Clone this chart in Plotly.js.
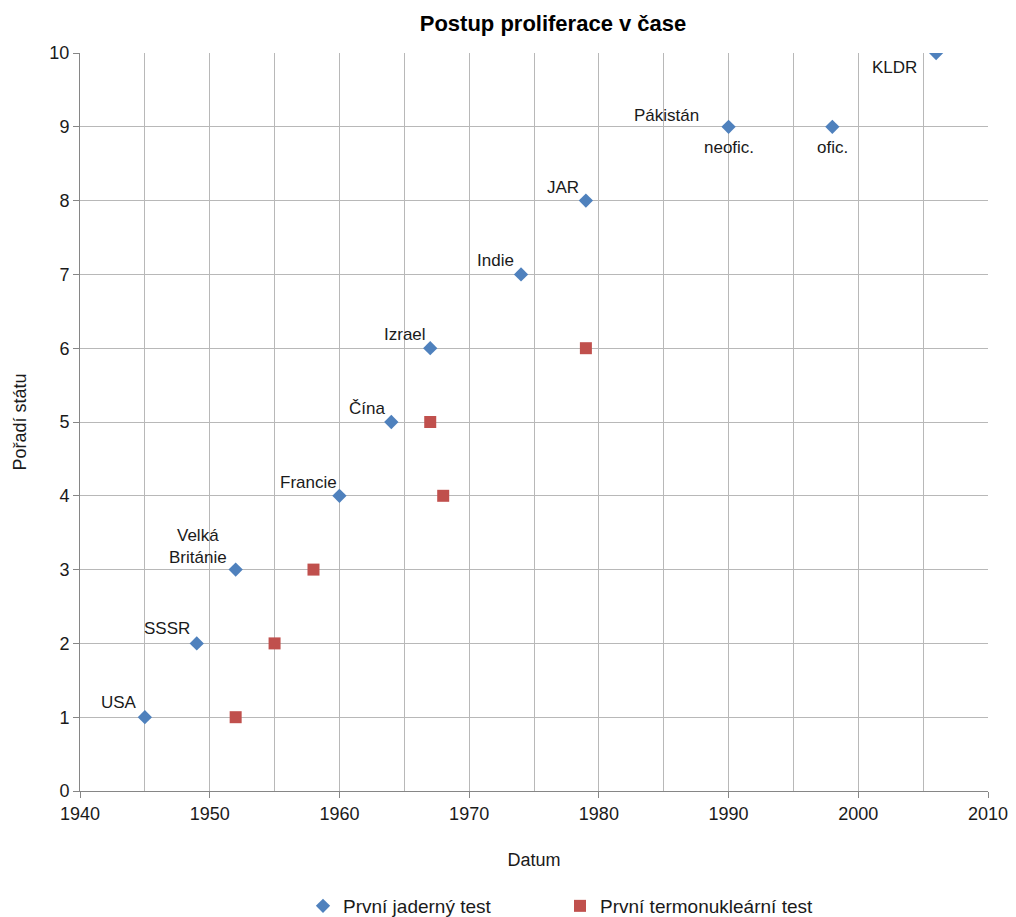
<!DOCTYPE html>
<html><head><meta charset="utf-8">
<script src="https://cdn.plot.ly/plotly-3.0.1.min.js"></script>
<style>body{margin:0;background:#fff}#c{width:1016px;height:917px}</style>
</head><body><div id="c"></div>
<script>
// First nuclear test
const nucYears = [1945, 1949, 1952, 1960, 1964, 1967, 1974, 1979, 1990, 1998, 2006];
const nucRank  = [1, 2, 3, 4, 5, 6, 7, 8, 9, 9, 10];
// First thermonuclear test
const thermoYears = [1952, 1955, 1958, 1968, 1967, 1979];
const thermoRank  = [1, 2, 3, 4, 5, 6];
// Point labels (attached to nuclear-test points)
const labelText = ["USA", "SSSR", "Velká<br>Británie", "Francie", "Čína", "Izrael", "Indie", "JAR", "Pákistán", "neofic.", "ofic.", "KLDR"];
const labelYear = [1945, 1949, 1952, 1960, 1964, 1967, 1974, 1979, 1990, 1990, 1998, 2006];
const labelRank = [1, 2, 3, 4, 5, 6, 7, 8, 9, 9, 9, 10];
// label placement styles
const labelStyle = [
  {xa:'right', ya:'bottom', dx:-6, dy:3},
  {xa:'right', ya:'bottom', dx:-5, dy:3},
  {xa:'right', ya:'bottom', dx:-7, dy:1},
  {xa:'right', ya:'bottom', dx:0, dy:2},
  {xa:'right', ya:'bottom', dx:-4, dy:2},
  {xa:'right', ya:'bottom', dx:-2, dy:2},
  {xa:'right', ya:'bottom', dx:-5, dy:2},
  {xa:'right', ya:'bottom', dx:-5, dy:2},
  {xa:'right', ya:'bottom', dx:-28, dy:0},
  {xa:'center', ya:'top', dx:0, dy:-9},
  {xa:'center', ya:'top', dx:0, dy:-9},
  {xa:'right', ya:'top', dx:-17, dy:-3}
];
const font = "Liberation Sans, Arial, sans-serif";
const annotations = labelText.map((t,i)=>({
  x: labelYear[i], y: labelRank[i], xref:'x', yref:'y', text:t, showarrow:false,
  xanchor: labelStyle[i].xa, yanchor: labelStyle[i].ya,
  xshift: labelStyle[i].dx, yshift: labelStyle[i].dy, align:'center',
  font:{family:font, size:17, color:'#1a1a1a'}
}));
const data = [
  {x:nucYears, y:nucRank, type:'scatter', mode:'markers', name:'První jaderný test',
   marker:{symbol:'diamond', size:11, color:'#4F81BD'}},
  {x:thermoYears, y:thermoRank, type:'scatter', mode:'markers', name:'První termonukleární test',
   marker:{symbol:'square', size:12, color:'#C0504D'}}
];
const layout = {
  width:1016, height:917,
  margin:{l:80, r:28, t:53, b:126, autoexpand:false},
  paper_bgcolor:'#fff', plot_bgcolor:'#fff',
  title:{text:'<b>Postup proliferace v čase</b>', x:553/1016, xanchor:'center', xref:'container', yref:'container', y:1-23/917, yanchor:'middle',
    font:{family:"Liberation Sans, Arial, sans-serif", size:22, color:'#000'}},
  xaxis:{range:[1940,2010], dtick:10, tick0:1940, showgrid:true, gridcolor:'#b8b8b8', gridwidth:1,
    minor:{dtick:5, tick0:1940, showgrid:true, gridcolor:'#b8b8b8', gridwidth:1},
    ticks:'outside', ticklen:6, tickcolor:'#868686', showline:true, linecolor:'#868686', linewidth:1,
    zeroline:false, tickfont:{family:font, size:18, color:'#1a1a1a'},
    title:{text:'Datum', standoff:30, font:{family:font, size:18, color:'#1a1a1a'}}},
  yaxis:{range:[0,10], dtick:1, showgrid:true, gridcolor:'#b8b8b8', gridwidth:1,
    ticks:'outside', ticklen:6, tickcolor:'#868686', showline:true, linecolor:'#868686', linewidth:1,
    zeroline:false, tickfont:{family:font, size:18, color:'#1a1a1a'},
    title:{text:'Pořadí státu', standoff:18, font:{family:font, size:18, color:'#1a1a1a'}}},
  showlegend:true,
  legend:{orientation:'h', x:(303-80)/908, xanchor:'left', y:-(906-791)/738, yanchor:'middle',
    font:{family:font, size:19, color:'#1a1a1a'}, entrywidth:212, entrywidthmode:'pixels', tracegroupgap:0},
  annotations: annotations
};
Plotly.newPlot('c', data, layout, {displayModeBar:false});
</script></body></html>
